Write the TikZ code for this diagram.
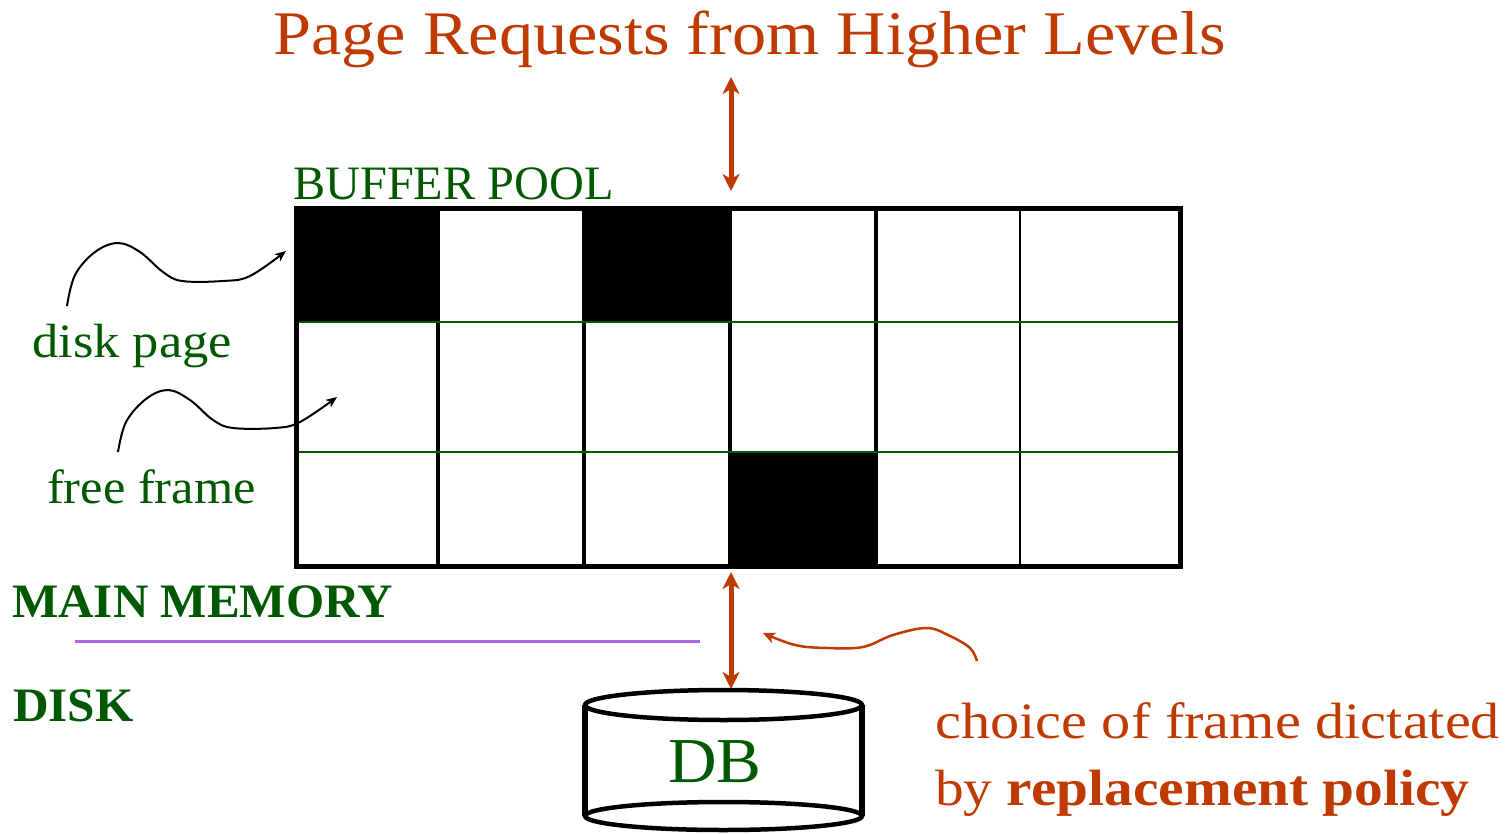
\documentclass[tikz,border=0pt]{standalone}
\usepackage{fontspec}
\usepackage{graphicx}
\setmainfont{Liberation Serif}
\usetikzlibrary{arrows.meta}
\definecolor{rust}{RGB}{190,58,0}
\definecolor{dgreen}{RGB}{0,88,0}
\definecolor{lilac}{RGB}{178,100,235}
\tikzset{
  lbl/.style={inner sep=0pt, anchor=base west},
  greenlbl/.style={lbl, text=dgreen, font=\fontsize{48}{52}\selectfont},
  boldlbl/.style={lbl, text=dgreen, font=\fontsize{48}{52}\selectfont\bfseries},
  rustlbl/.style={lbl, text=rust, font=\fontsize{51}{56}\selectfont},
  bigarrow/.style={draw=rust, line width=5pt, {Stealth[length=17pt,width=17pt,inset=5pt]}-{Stealth[length=17pt,width=17pt,inset=5pt]}},
  squiggle/.style={draw=black, line width=2pt, -{Stealth[length=11pt,width=9pt,inset=3pt]}},
  rustsquiggle/.style={draw=rust, line width=2.5pt, -{Stealth[length=12pt,width=11pt,inset=3pt]}},
  gridv/.style={line width=3.5pt, black},
  gridh/.style={line width=2.5pt, dgreen},
}
\begin{document}
\begin{tikzpicture}[x=1pt,y=-1pt]
\useasboundingbox (0,0) rectangle (1512,834);

% texts
\node[lbl, text=rust, font=\fontsize{62}{68}\selectfont] (title) at (273,55) {\scalebox{1.102}[1]{Page Requests from Higher Levels}};
\node[greenlbl] (bp) at (293,200) {\scalebox{1.006}[1]{BUFFER POOL}};
\node[greenlbl] (dp) at (32,357) {\scalebox{1.094}[1]{disk page}};
\node[greenlbl] (ff) at (47,503) {\scalebox{1.05}[1]{free frame}};
\node[boldlbl] (mm) at (12,617) {\scalebox{1.022}[1]{MAIN MEMORY}};
\node[boldlbl] (dk) at (13,721) {\scalebox{1.026}[1]{DISK}};
\node[rustlbl] (ch1) at (935,738) {\scalebox{1.143}[1]{choice of frame dictated}};
\node[rustlbl] (ch2) at (935,805) {\scalebox{1.125}[1]{by \textbf{replacement policy}}};

% grid: black cells
\fill[black] (296,209) rectangle (438,322);
\fill[black] (584,209) rectangle (730,322);
\fill[black] (730,452) rectangle (876,566);
% vertical lines
\foreach \x in {438,584,730,876} \draw[gridv] (\x,209) -- (\x,566);
\draw[line width=2.5pt] (1020,209) -- (1020,566);
% horizontal lines
\draw[gridh] (296,322) -- (1180,322);
\draw[gridh] (296,452) -- (1180,452);
% outer border
\draw[line width=5pt, line join=miter] (296,209) rectangle (1180,566);

% arrows to/from pool
\coordinate (t1) at (731,77);
\coordinate (t2) at (731,191);
\draw[bigarrow] (t1) -- (t2);
\coordinate (b1) at (731,572);
\coordinate (b2) at (731,689);
\draw[bigarrow] (b1) -- (b2);

% separator
\coordinate (s1) at (75,641);
\coordinate (s2) at (700,641);
\draw[lilac, line width=3pt] (s1) -- (s2);

% disk cylinder
\coordinate (dbc) at (723.5,760);
\draw[line width=6pt] (585,705) -- (585,816);
\draw[line width=6pt] (862,705) -- (862,816);
\draw[line width=4.5pt, fill=white] (723.5,705) ellipse [x radius=138.5, y radius=15];
\draw[line width=4.5pt] (723.5,816) ellipse [x radius=138.5, y radius=14];
\node[inner sep=0pt, anchor=base, text=dgreen, font=\fontsize{64}{70}\selectfont] (db) at (715,782) {\scalebox{1.05}[1]{DB}};

% squiggly arrows
\draw[squiggle] plot[smooth, tension=0.6] coordinates {(67,306) (75,275) (95,252) (118,243) (140,252) (163,272) (182,281) (223,281) (250,276) (286,251)};
\draw[squiggle] plot[smooth, tension=0.6] coordinates {(118,452) (126,422) (146,399) (168,390) (190,400) (213,420) (233,428) (275,428) (300,422) (337,397)};
\draw[rustsquiggle] plot[smooth, tension=0.6] coordinates {(977,661) (970,648) (950,636) (927,628) (893,635) (863,647) (827,648) (795,645) (763,633)};
\end{tikzpicture}
\end{document}
